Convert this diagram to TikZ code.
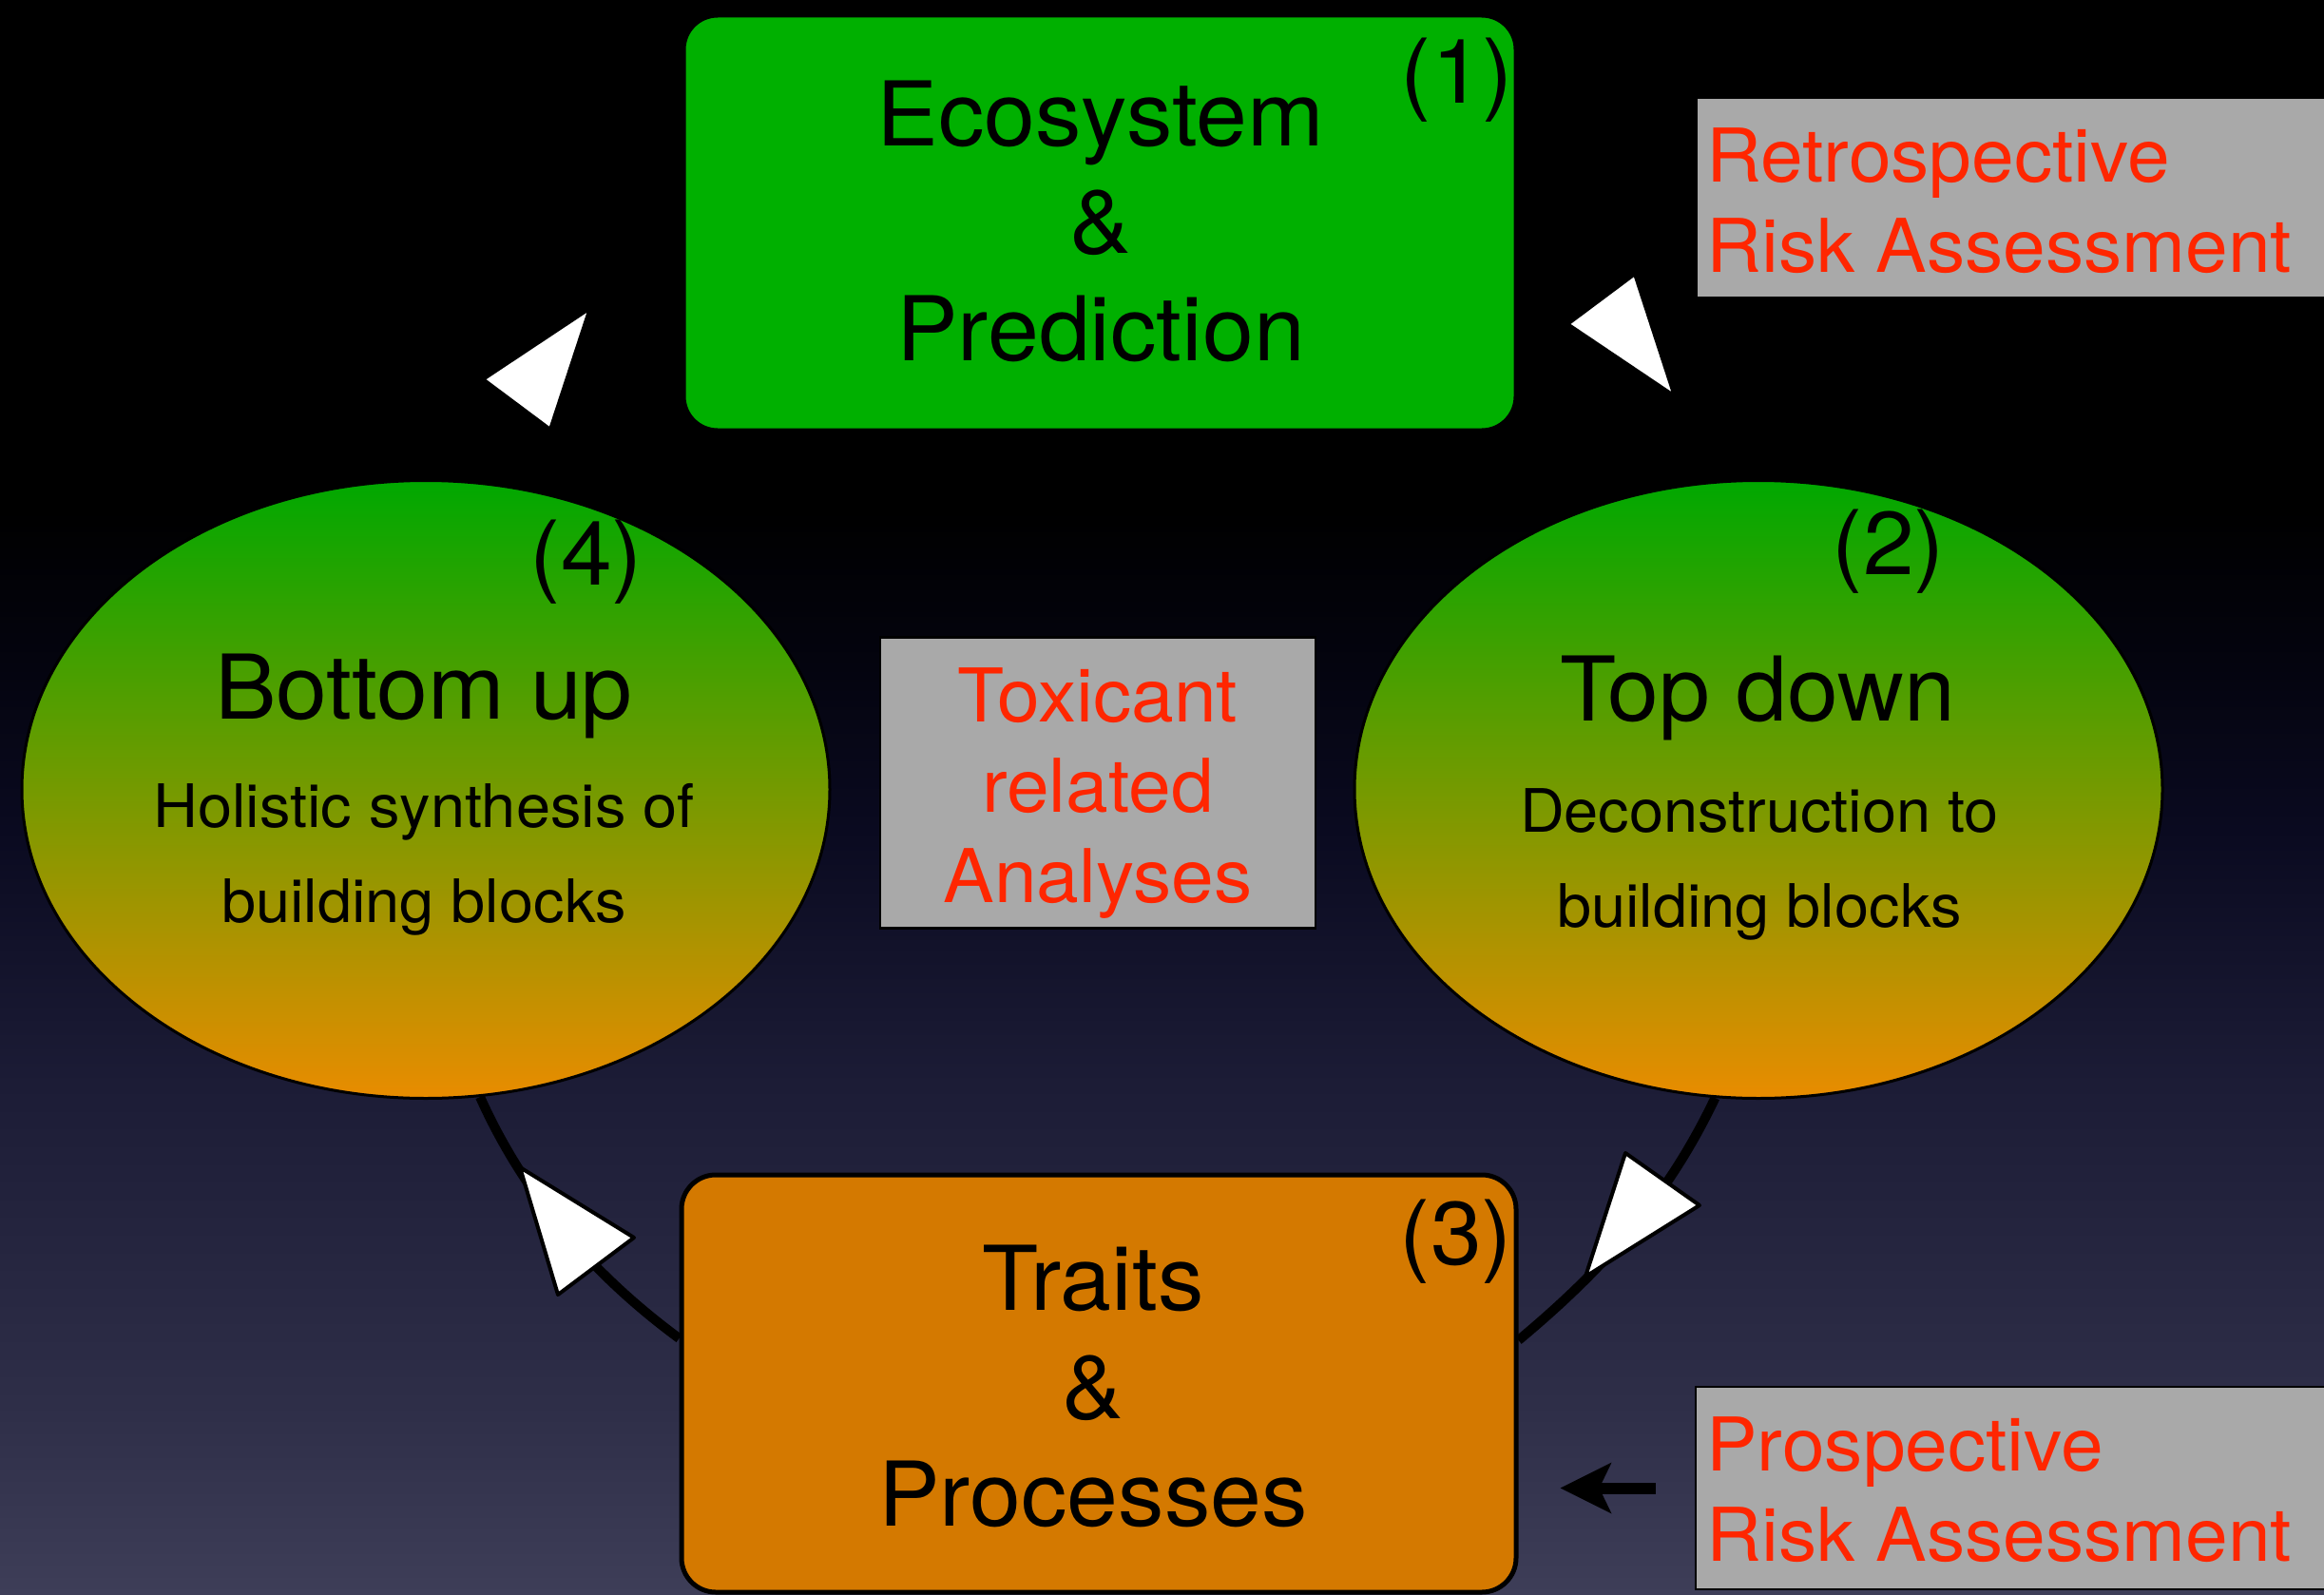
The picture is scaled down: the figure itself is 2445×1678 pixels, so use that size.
\documentclass[tikz,border=0pt]{standalone}
\usepackage{fontspec}
\setmainfont{TeX Gyre Heros}[FakeStretch=1.03]
\usetikzlibrary{shapes.geometric,arrows.meta}
\definecolor{bgA}{RGB}{62,62,88}
\definecolor{bgB}{RGB}{46,46,72}
\definecolor{bgC}{RGB}{28,28,54}
\definecolor{bgD}{RGB}{10,10,32}
\definecolor{bgE}{RGB}{3,3,12}
\definecolor{boxgreen}{RGB}{0,176,0}
\definecolor{boxorange}{RGB}{212,121,0}
\definecolor{ellgreen}{RGB}{0,168,0}
\definecolor{ellorange}{RGB}{233,140,0}
\definecolor{boxgray}{RGB}{169,169,169}
\definecolor{redtxt}{RGB}{255,38,0}
\pgfdeclareverticalshading{bgsh}{100bp}{color(0bp)=(bgA); color(25bp)=(bgA); color(31bp)=(bgB); color(41bp)=(bgC); color(49bp)=(bgD); color(55bp)=(bgE); color(59bp)=(black); color(100bp)=(black)}
\tikzset{
  roundbox/.style={rectangle, rounded corners=36pt, draw=black, line width=5pt, inner sep=0pt},
  ellbox/.style={ellipse, draw=black, line width=3pt, top color=ellgreen, bottom color=ellorange, inner sep=0pt},
  graybox/.style={rectangle, draw=black, line width=2.5pt, fill=boxgray, inner sep=0pt},
  titletext/.style={font=\fontsize{94}{113}\selectfont, text=black, inner sep=0pt, anchor=base},
  subtext/.style={font=\fontsize{63}{100}\selectfont, text=black, inner sep=0pt, anchor=base},
  redtext/.style={font=\fontsize{78}{95}\selectfont, text=redtxt, inner sep=0pt, anchor=base},
  conn/.style={draw=black, line width=10pt},
  tri/.style={fill=white, draw=black, line width=4pt, line join=round}
}
\begin{document}
\begin{tikzpicture}[x=1pt,y=-1pt]
\shade[shading=bgsh] (0,0) rectangle (2445,1678);
\useasboundingbox (0,0) rectangle (2445,1678);

% main shapes
\node[roundbox, fill=boxgreen, minimum width=876pt, minimum height=437pt] (eco) at (1157,234.5) {};
\node[roundbox, fill=boxorange, minimum width=878pt, minimum height=439pt] (trait) at (1156,1455.5) {};
\node[ellbox, minimum width=850pt, minimum height=650pt] (bu) at (448,830.5) {};
\node[ellbox, minimum width=850pt, minimum height=650pt] (td) at (1850,830.5) {};
\node[graybox, minimum width=458pt, minimum height=306pt] (tox) at (1155,823.5) {};
\node[graybox, minimum width=665pt, minimum height=210pt] (retro) at (2117.5,208) {};
\node[graybox, minimum width=666pt, minimum height=213pt] (prosp) at (2117,1565.5) {};

% connectors
\draw[conn] (bu.-80) .. controls +(45,100) and +(-95,-70) .. ([yshift=47.5pt]trait.west);
\draw[conn] (td.-98) .. controls +(-50,105) and +(90,-75) .. ([yshift=45.5pt]trait.east);
\draw[line width=12pt, -{Stealth[length=53pt,width=52pt,inset=12pt]}, shorten <=41pt, shorten >=44pt]
  (prosp.west) -- (prosp.west -| trait.east);

% arrowheads
\path[tri] (508,399) -- (621,324) -- (579,452) -- cycle;
\path[tri] (1649,341) -- (1720,288) -- (1762,417) -- cycle;
\path[tri] (547,1228) -- (667,1302) -- (587,1362) -- cycle;
\path[tri] (1710,1213) -- (1788,1268) -- (1668,1343) -- cycle;

% texts: Ecosystem box
\node[titletext] (e1) at (1158,153) {Ecosystem};
\node[titletext] (e2) at (1158,266) {\&};
\node[titletext] (e3) at (1158,379) {Prediction};
\node[titletext] (n1) at (1533,108) {(1)};
% Traits box
\node[titletext] (p1) at (1150,1378) {Traits};
\node[titletext] (p2) at (1150,1492) {\&};
\node[titletext] (p3) at (1150,1605) {Processes};
\node[titletext] (n3) at (1532,1330) {(3)};
% Bottom up
\node[titletext] (b1) at (446,756) {Bottom up};
\node[subtext] (b2) at (446,870) {Holistic synthesis of};
\node[subtext] (b3) at (446,970) {building blocks};
\node[titletext] (n4) at (617,615) {(4)};
% Top down
\node[titletext] (d1) at (1849,758) {Top down};
\node[subtext] (d2) at (1851,875) {Deconstruction to};
\node[subtext] (d3) at (1851,975) {building blocks};
\node[titletext] (n2) at (1987,604) {(2)};
% red texts
\node[redtext] (x1) at (1155,759) {Toxicant};
\node[redtext] (x2) at (1155,854) {related};
\node[redtext] (x3) at (1155,949) {Analyses};
\node[redtext, anchor=base west] (r1) at (1795,191) {Retrospective};
\node[redtext, anchor=base west] (r2) at (1795,286) {Risk Assessment};
\node[redtext, anchor=base west] (s1) at (1795,1547) {Prospective};
\node[redtext, anchor=base west] (s2) at (1795,1642) {Risk Assessment};
\end{tikzpicture}
\end{document}
